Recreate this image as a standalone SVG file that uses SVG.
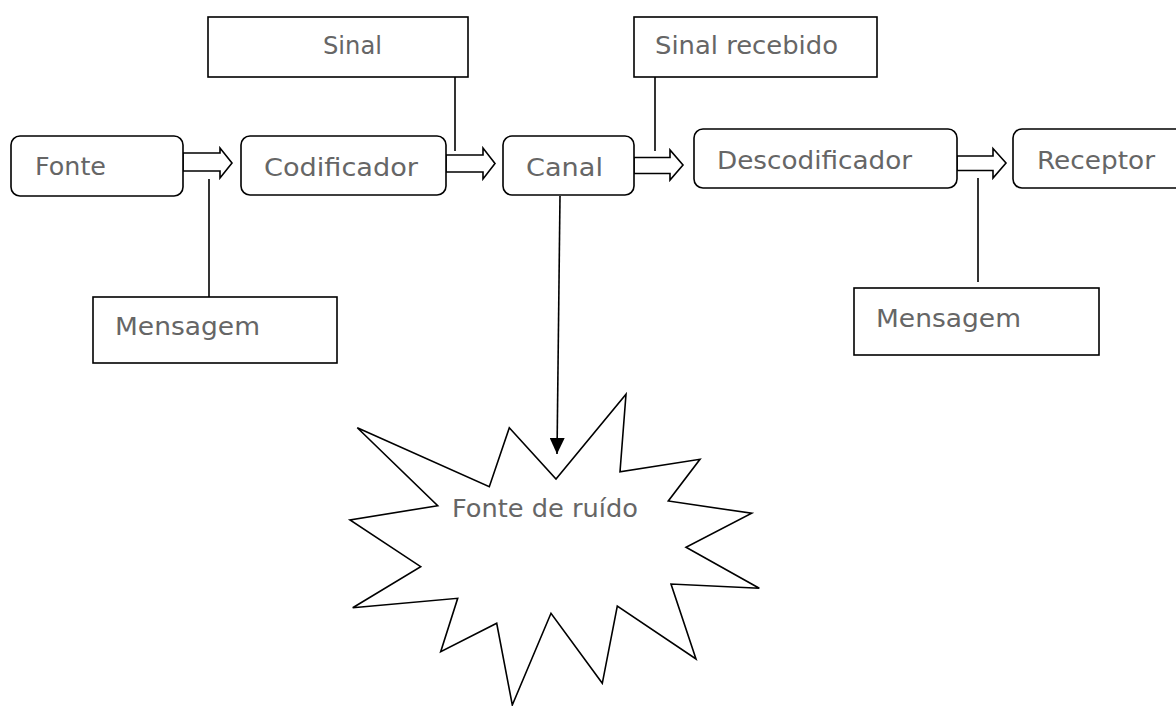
<svg xmlns="http://www.w3.org/2000/svg" width="1176" height="706" viewBox="0 0 1176 706">
<style>
.box{fill:#fff;stroke:#000;stroke-width:1.6}
.blk{fill:#fff;stroke:#000;stroke-width:1.6;stroke-linejoin:miter}
.ln{fill:none;stroke:#000;stroke-width:1.6}
.t{font-family:"DejaVu Sans","Liberation Sans",sans-serif;font-size:25px;fill:#666}
</style>
<defs>
<marker id="ah" viewBox="0 0 16 15" refX="16" refY="7.5" markerWidth="16" markerHeight="15" markerUnits="userSpaceOnUse" orient="auto">
<path d="M0,0 L16,7.5 L0,15 Z" fill="#000"/>
</marker>
</defs>
<rect width="1176" height="706" fill="#fff"/>
<g id="connectors">
<polygon class="blk" points="183,153 220,153 220,148 232,163 220,178 220,171 183,171"/>
<polygon class="blk" points="446,155 483,155 483,148 495,163.5 483,179 483,172 446,172"/>
<polygon class="blk" points="634,157.5 670,157.5 670,150 683,165 670,180 670,173.5 634,173.5"/>
<polygon class="blk" points="957,156 993,156 993,148.5 1006,163 993,178 993,170.5 957,170.5"/>
<line class="ln" x1="455" y1="77" x2="455" y2="151"/>
<line class="ln" x1="655" y1="77" x2="655" y2="151"/>
<line class="ln" x1="209" y1="179" x2="209" y2="297"/>
<line class="ln" x1="978" y1="178" x2="978" y2="282"/>
<line class="ln" x1="560" y1="196" x2="557" y2="454" marker-end="url(#ah)"/>
</g>
<g id="fonte">
<rect class="box" x="11" y="136" width="172" height="60" rx="9"/>
<text class="t" x="35" y="175" textLength="71" lengthAdjust="spacingAndGlyphs">Fonte</text>
</g>
<g id="codificador">
<rect class="box" x="241" y="136" width="205" height="59" rx="9"/>
<text class="t" x="264" y="176" textLength="154" lengthAdjust="spacingAndGlyphs">Codificador</text>
</g>
<g id="sinal">
<rect class="box" x="208" y="17" width="260" height="60"/>
<text class="t" x="323" y="54" textLength="59" lengthAdjust="spacingAndGlyphs">Sinal</text>
</g>
<g id="canal">
<rect class="box" x="503" y="136" width="131" height="59" rx="9"/>
<text class="t" x="526" y="176" textLength="77" lengthAdjust="spacingAndGlyphs">Canal</text>
</g>
<g id="sinal-recebido">
<rect class="box" x="634" y="17" width="243" height="60"/>
<text class="t" x="655" y="54" textLength="183" lengthAdjust="spacingAndGlyphs">Sinal recebido</text>
</g>
<g id="descodificador">
<rect class="box" x="694" y="129" width="263" height="59" rx="9"/>
<text class="t" x="717" y="169" textLength="195" lengthAdjust="spacingAndGlyphs">Descodificador</text>
</g>
<g id="receptor">
<rect class="box" x="1013" y="129" width="180" height="59" rx="9"/>
<text class="t" x="1037" y="169" textLength="118" lengthAdjust="spacingAndGlyphs">Receptor</text>
</g>
<g id="mensagem-1">
<rect class="box" x="93" y="297" width="244" height="66"/>
<text class="t" x="115" y="335" textLength="145" lengthAdjust="spacingAndGlyphs">Mensagem</text>
</g>
<g id="mensagem-2">
<rect class="box" x="854" y="288" width="245" height="67"/>
<text class="t" x="876" y="327" textLength="145" lengthAdjust="spacingAndGlyphs">Mensagem</text>
</g>
<g id="fonte-ruido">
<polygon class="box" points="357.3,427.7 489.3,486.7 509.3,427.7 556,479 626,394.3 620,471.7 700,459.3 668.3,501 751.7,513.3 686,547.3 759.3,588.3 671,584 696,659 617.3,606 602.3,683.3 551,613.3 512.3,705 496.7,623.3 440.7,651.7 457.7,598.3 352.7,607.7 420.7,566.7 350,520 437.7,505.7"/>
<text class="t" x="452" y="517" textLength="186" lengthAdjust="spacingAndGlyphs">Fonte de ruído</text>
</g>
</svg>
